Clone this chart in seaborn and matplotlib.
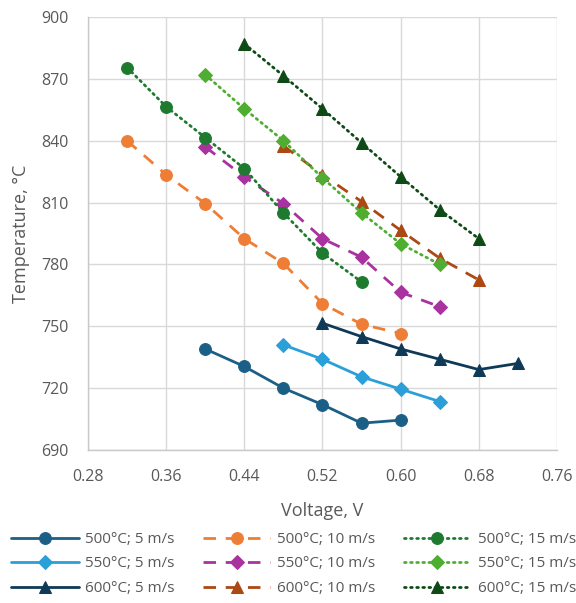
import matplotlib
matplotlib.use("Agg")
import matplotlib.pyplot as plt
import seaborn as sns
import pandas as pd

sns.set_theme(style="white")
plt.rcParams['font.family'] = ['Open Sans', 'DejaVu Sans']

# ---- data ----
v_500_5 = [0.40, 0.44, 0.48, 0.52, 0.56, 0.60]
t_500_5 = [739, 730.5, 720, 712, 703, 704.5]
v_550_5 = [0.48, 0.52, 0.56, 0.60, 0.64]
t_550_5 = [741, 734, 725.5, 719.5, 713.5]
v_600_5 = [0.52, 0.56, 0.60, 0.64, 0.68, 0.72]
t_600_5 = [751.5, 745, 739, 734, 729, 732]

v_500_10 = [0.32, 0.36, 0.40, 0.44, 0.48, 0.52, 0.56, 0.60]
t_500_10 = [840, 823.5, 809.5, 792.5, 780.5, 761, 751, 746.5]
v_550_10 = [0.40, 0.44, 0.48, 0.52, 0.56, 0.60, 0.64]
t_550_10 = [837, 822.5, 809.5, 792.5, 783.5, 766.5, 759.5]
v_600_10 = [0.48, 0.52, 0.56, 0.60, 0.64, 0.68]
t_600_10 = [837.5, 823.5, 810.5, 796.5, 783, 772.5]

v_500_15 = [0.32, 0.36, 0.40, 0.44, 0.48, 0.52, 0.56]
t_500_15 = [875.5, 856.5, 841.5, 826.5, 805, 785.5, 771.5]
v_550_15 = [0.40, 0.44, 0.48, 0.52, 0.56, 0.60, 0.64]
t_550_15 = [872, 855.5, 840, 822, 805, 790, 780]
v_600_15 = [0.44, 0.48, 0.52, 0.56, 0.60, 0.64, 0.68]
t_600_15 = [887, 871.5, 855.5, 839, 822.5, 806.5, 792.5]

x_ticks = [0.28, 0.36, 0.44, 0.52, 0.60, 0.68, 0.76]
y_ticks = [690, 720, 750, 780, 810, 840, 870, 900]

DASH = (0, (4.5, 3.5))
DOT = (0, (0.6, 1.6))
series = [
    ("500°C; 5 m/s", v_500_5, t_500_5, "#1C5F86", "-", "o"),
    ("550°C; 5 m/s", v_550_5, t_550_5, "#2A9FD8", "-", "D"),
    ("600°C; 5 m/s", v_600_5, t_600_5, "#0F3A57", "-", "^"),
    ("500°C; 10 m/s", v_500_10, t_500_10, "#EE7D35", DASH, "o"),
    ("550°C; 10 m/s", v_550_10, t_550_10, "#A8339F", DASH, "D"),
    ("600°C; 10 m/s", v_600_10, t_600_10, "#AC4813", DASH, "^"),
    ("500°C; 15 m/s", v_500_15, t_500_15, "#1E7A2E", DOT, "o"),
    ("550°C; 15 m/s", v_550_15, t_550_15, "#4FAE32", DOT, "D"),
    ("600°C; 15 m/s", v_600_15, t_600_15, "#0E4A16", DOT, "^"),
]

fig = plt.figure(figsize=(5.76, 6.03), dpi=100)
ax = fig.add_axes([88/576, 1-450/603, (557-88)/576, (450-17)/603])

for name, xs, ys, col, ls, mk in series:
    df = pd.DataFrame({"V": xs, "T": ys})
    ms = 8.5 if mk == "o" else (6.8 if mk == "D" else 9)
    sns.lineplot(data=df, x="V", y="T", ax=ax, color=col, marker=mk,
                 markersize=ms, markeredgecolor=col, linewidth=2.0,
                 linestyle=ls, dash_capstyle="round" if ls is DOT else "butt",
                 label=name, sort=False, errorbar=None)

ax.set_xlim(0.28, 0.76)
ax.set_ylim(690, 900)
ax.set_xticks(x_ticks)
ax.set_xticklabels([f"{x:.2f}" for x in x_ticks])
ax.set_yticks(y_ticks)
ax.grid(True, color="#D9D9D9", linewidth=1.0)
ax.set_axisbelow(True)
for k, s in ax.spines.items():
    if k in ("left", "bottom"):
        s.set_color("#C8C8C8")
        s.set_linewidth(1.0)
    else:
        s.set_visible(False)
ax.tick_params(axis="both", direction="out", length=5, width=1.0, color="#C8C8C8",
               labelsize=11.5, labelcolor="#595959", pad=9)
ax.set_xlabel("Voltage, V", fontsize=13, color="#595959", labelpad=12)
ax.set_ylabel("Temperature, °C", fontsize=13, color="#595959", labelpad=8)

h, l = ax.get_legend_handles_labels()
if ax.get_legend():
    ax.get_legend().remove()
leg = fig.legend(h, l, loc="upper left", bbox_to_anchor=(0.009, 0.128), ncol=3,
                 frameon=False, fontsize=11, handlelength=4.4, columnspacing=1.85,
                 handletextpad=0.45, labelspacing=0.62, borderaxespad=0)
for t in leg.get_texts():
    t.set_color("#595959")

fig.savefig("out.png", dpi=100)
